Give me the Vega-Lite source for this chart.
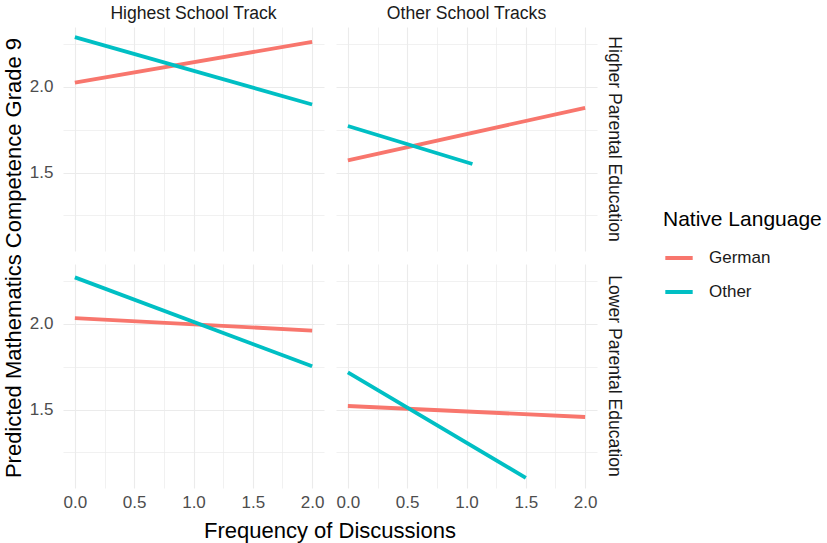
{
  "$schema": "https://vega.github.io/schema/vega-lite/v6.json",
  "padding": {"left": 2, "top": 5, "right": 2, "bottom": 1},
  "background": "white",
  "config": {
    "font": "Liberation Sans",
    "view": {"stroke": null},
    "axis": {
      "domain": false,
      "ticks": false,
      "labelColor": "#4D4D4D",
      "labelFontSize": 17,
      "labelFont": "Liberation Sans",
      "gridColor": "#EBEBEB",
      "title": null
    }
  },
  "data": {
    "values": [
      {"track": "Highest School Track", "parent": "Higher Parental Education", "lang": "German", "freq": 0, "pred": 2.025},
      {"track": "Highest School Track", "parent": "Higher Parental Education", "lang": "German", "freq": 2, "pred": 2.262},
      {"track": "Highest School Track", "parent": "Higher Parental Education", "lang": "Other", "freq": 0, "pred": 2.29},
      {"track": "Highest School Track", "parent": "Higher Parental Education", "lang": "Other", "freq": 2, "pred": 1.897},
      {"track": "Other School Tracks", "parent": "Higher Parental Education", "lang": "German", "freq": 0, "pred": 1.571},
      {"track": "Other School Tracks", "parent": "Higher Parental Education", "lang": "German", "freq": 2, "pred": 1.878},
      {"track": "Other School Tracks", "parent": "Higher Parental Education", "lang": "Other", "freq": 0, "pred": 1.772},
      {"track": "Other School Tracks", "parent": "Higher Parental Education", "lang": "Other", "freq": 1.05, "pred": 1.55},
      {"track": "Highest School Track", "parent": "Lower Parental Education", "lang": "German", "freq": 0, "pred": 2.033},
      {"track": "Highest School Track", "parent": "Lower Parental Education", "lang": "German", "freq": 2, "pred": 1.961},
      {"track": "Highest School Track", "parent": "Lower Parental Education", "lang": "Other", "freq": 0, "pred": 2.271},
      {"track": "Highest School Track", "parent": "Lower Parental Education", "lang": "Other", "freq": 2, "pred": 1.753},
      {"track": "Other School Tracks", "parent": "Lower Parental Education", "lang": "German", "freq": 0, "pred": 1.521},
      {"track": "Other School Tracks", "parent": "Lower Parental Education", "lang": "German", "freq": 2, "pred": 1.457},
      {"track": "Other School Tracks", "parent": "Lower Parental Education", "lang": "Other", "freq": 0, "pred": 1.717},
      {"track": "Other School Tracks", "parent": "Lower Parental Education", "lang": "Other", "freq": 1.5, "pred": 1.102}
    ]
  },
  "spacing": {"row": 13, "column": 12},
  "facet": {
    "column": {
      "field": "track",
      "type": "nominal",
      "title": "Frequency of Discussions",
      "header": {
        "labelOrient": "top",
        "titleOrient": "bottom",
        "labelFontSize": 17.6,
        "labelColor": "#1A1A1A",
        "labelPadding": 4,
        "titleFontSize": 22,
        "titleFontWeight": "normal",
        "titleColor": "black",
        "titlePadding": 1
      }
    },
    "row": {
      "field": "parent",
      "type": "nominal",
      "title": "Predicted Mathematics Competence Grade 9",
      "header": {
        "labelOrient": "right",
        "labelAngle": 90,
        "titleOrient": "left",
        "labelFontSize": 17.6,
        "labelColor": "#1A1A1A",
        "labelPadding": 8,
        "titleFontSize": 22,
        "titleFontWeight": "normal",
        "titleColor": "black",
        "titlePadding": -7
      }
    }
  },
  "spec": {
    "width": 261,
    "height": 224,
    "mark": {"type": "line", "strokeWidth": 3.8, "clip": true},
    "encoding": {
      "x": {
        "field": "freq",
        "type": "quantitative",
        "scale": {"domain": [-0.1, 2.1], "nice": false, "zero": false},
        "axis": {
          "values": [0, 0.25, 0.5, 0.75, 1, 1.25, 1.5, 1.75, 2],
          "format": ".1f",
          "labelExpr": "datum.value % 0.5 == 0 ? datum.label : ''",
          "labelPadding": 6,
          "gridWidth": {"condition": {"test": "datum.value % 0.5 == 0", "value": 1.1}, "value": 0.7}
        }
      },
      "y": {
        "field": "pred",
        "type": "quantitative",
        "scale": {"domain": [1.043, 2.349], "nice": false, "zero": false},
        "axis": {
          "values": [1.25, 1.5, 1.75, 2, 2.25],
          "format": ".1f",
          "labelExpr": "datum.value % 0.5 == 0 ? datum.label : ''",
          "labelPadding": 10,
          "gridWidth": {"condition": {"test": "datum.value % 0.5 == 0", "value": 1.1}, "value": 0.7}
        }
      },
      "color": {
        "field": "lang",
        "type": "nominal",
        "scale": {"domain": ["German", "Other"], "range": ["#F8766D", "#00BFC4"]},
        "legend": {
          "title": "Native Language",
          "orient": "none",
          "legendX": 600,
          "legendY": 182,
          "titleFontSize": 21,
          "titleFontWeight": "normal",
          "titleColor": "black",
          "titlePadding": 12,
          "labelFontSize": 17,
          "labelColor": "#1A1A1A",
          "labelOffset": 14,
          "symbolType": "stroke",
          "symbolSize": 750,
          "symbolStrokeWidth": 4,
          "rowPadding": 10
        }
      },
      "detail": {"field": "lang"}
    }
  }
}
